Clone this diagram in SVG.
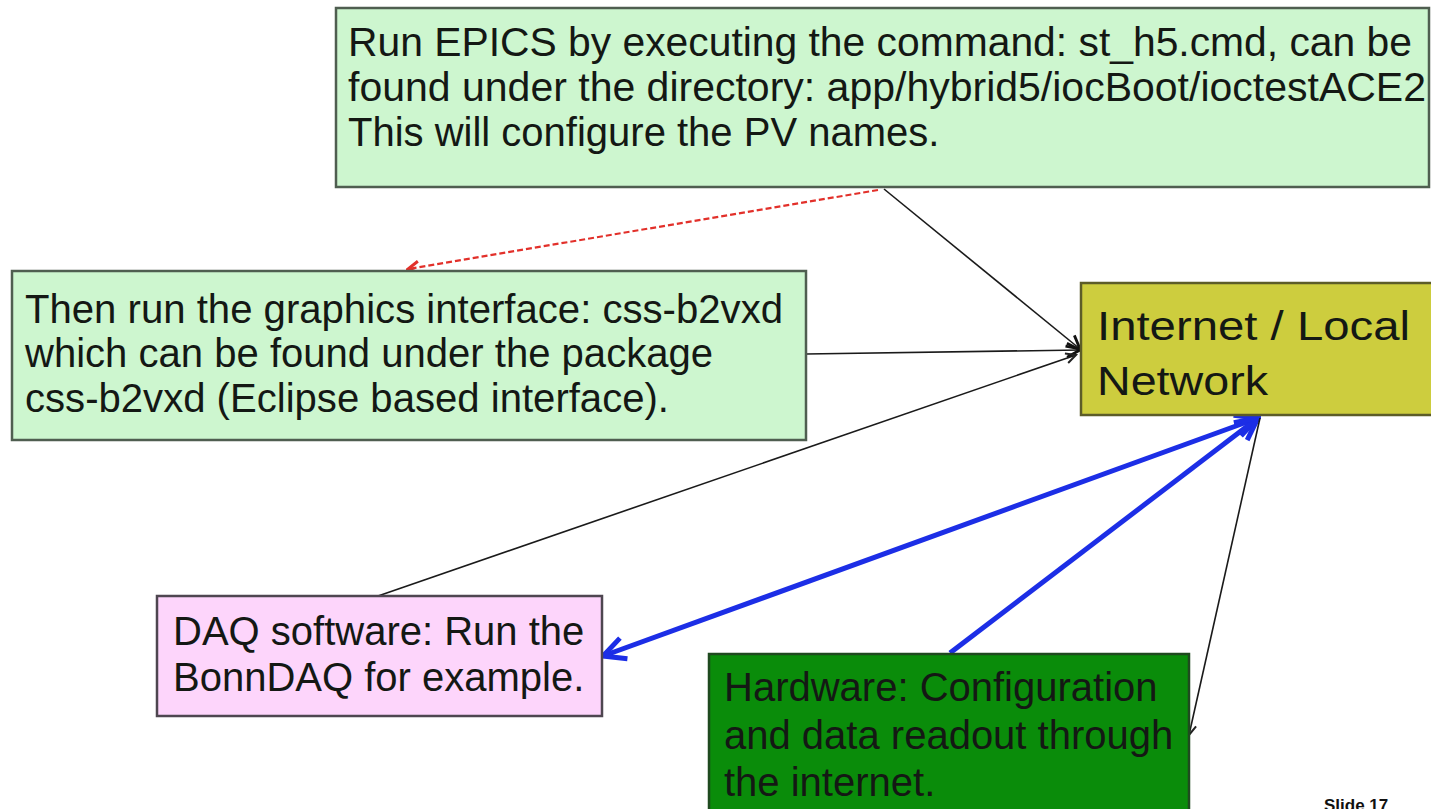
<svg xmlns="http://www.w3.org/2000/svg" width="1431" height="809" viewBox="0 0 1431 809">
  <style>
    .t { font-family: "Liberation Sans", Arial, sans-serif; font-size: 40px; fill: #141814; }
    .box { stroke-width: 2.5; }
    .thin { stroke: #1a1a1a; stroke-width: 1.6; fill: none; }
    .blue { stroke: #1c2ee6; stroke-width: 5; fill: none; }
  </style>
  <defs>
    <marker id="ab" markerUnits="userSpaceOnUse" markerWidth="18" markerHeight="18" viewBox="0 0 18 18" refX="16" refY="9" orient="auto-start-reverse">
      <path d="M3,2 L16,9 L3,16" fill="none" stroke="#111" stroke-width="2.8"/>
    </marker>
    <marker id="abs" markerUnits="userSpaceOnUse" markerWidth="14" markerHeight="14" viewBox="0 0 14 14" refX="12" refY="7" orient="auto-start-reverse">
      <path d="M2,2 L12,7 L2,12" fill="none" stroke="#222" stroke-width="2"/>
    </marker>
    <marker id="ar" markerUnits="userSpaceOnUse" markerWidth="16" markerHeight="16" viewBox="0 0 16 16" refX="14" refY="8" orient="auto-start-reverse">
      <path d="M3,2 L14,8 L3,14" fill="none" stroke="#e2302a" stroke-width="3"/>
    </marker>
    <marker id="abl" markerUnits="userSpaceOnUse" markerWidth="30" markerHeight="30" viewBox="0 0 30 30" refX="27" refY="15" orient="auto-start-reverse">
      <path d="M5,4 L27,15 L5,26" fill="none" stroke="#1c2ee6" stroke-width="5"/>
    </marker>
  </defs>
  <rect width="1431" height="809" fill="#ffffff"/>

  <g id="connectors">
    <line x1="878" y1="190" x2="408" y2="269" stroke="#e2302a" stroke-width="2.2" stroke-dasharray="6,3" marker-end="url(#ar)"/>
    <line class="thin" x1="884" y1="189" x2="1080" y2="349" marker-end="url(#ab)"/>
    <line class="thin" x1="806" y1="354" x2="1080" y2="350" stroke-width="2" marker-end="url(#ab)"/>
    <line class="thin" x1="378" y1="596" x2="1076" y2="355" marker-end="url(#abs)"/>
    <line class="blue" x1="603" y1="656" x2="1258" y2="418" marker-start="url(#abl)" marker-end="url(#abl)"/>
    <line class="blue" x1="950" y1="653" x2="1258" y2="418" marker-end="url(#abl)"/>
    <line class="thin" x1="1260" y1="418" x2="1189" y2="735" marker-end="url(#abs)"/>
  </g>

  <g id="node-epics">
    <rect class="box" x="336" y="8" width="1093" height="179" fill="#cdf6cf" stroke="#4f5e50"/>
    <text class="t" x="348" y="56" font-size="41" textLength="1064" lengthAdjust="spacingAndGlyphs">Run EPICS by executing the command: st_h5.cmd, can be</text>
    <text class="t" x="348" y="101" font-size="41" textLength="1078" lengthAdjust="spacingAndGlyphs">found under the directory: app/hybrid5/iocBoot/ioctestACE2</text>
    <text class="t" x="348" y="146" font-size="41">This will configure the PV names.</text>
  </g>

  <g id="node-gui">
    <rect class="box" x="12" y="271" width="794" height="169" fill="#cdf6cf" stroke="#4f5e50"/>
    <text class="t" x="25" y="323" font-size="43" textLength="758" lengthAdjust="spacingAndGlyphs">Then run the graphics interface: css-b2vxd</text>
    <text class="t" x="25" y="367" font-size="43" textLength="688" lengthAdjust="spacingAndGlyphs">which can be found under the package</text>
    <text class="t" x="25" y="412" font-size="43" textLength="644" lengthAdjust="spacingAndGlyphs">css-b2vxd (Eclipse based interface).</text>
  </g>

  <g id="node-network">
    <rect class="box" x="1081" y="283" width="352" height="132" fill="#cdcd3e" stroke="#5c5c28"/>
    <text class="t" x="1097" y="340" font-size="50" fill="#111" textLength="313" lengthAdjust="spacingAndGlyphs">Internet / Local</text>
    <text class="t" x="1097" y="395" font-size="50" fill="#111" textLength="171" lengthAdjust="spacingAndGlyphs">Network</text>
  </g>

  <g id="node-daq">
    <rect class="box" x="157" y="596" width="445" height="120" fill="#fdd5fb" stroke="#4e4650"/>
    <text class="t" x="173" y="645">DAQ software: Run the</text>
    <text class="t" x="173" y="691">BonnDAQ for example.</text>
  </g>

  <g id="node-hardware">
    <rect class="box" x="709" y="654" width="480" height="160" fill="#0a8c0a" stroke="#1f4a1f"/>
    <text class="t" x="724" y="701" fill="#062a06">Hardware: Configuration</text>
    <text class="t" x="724" y="749" fill="#062a06">and data readout through</text>
    <text class="t" x="724" y="796" fill="#062a06">the internet.</text>
  </g>

  <text x="1324" y="811" font-family="Liberation Sans, Arial, sans-serif" font-size="17" font-weight="bold" fill="#111">Slide 17</text>
</svg>
